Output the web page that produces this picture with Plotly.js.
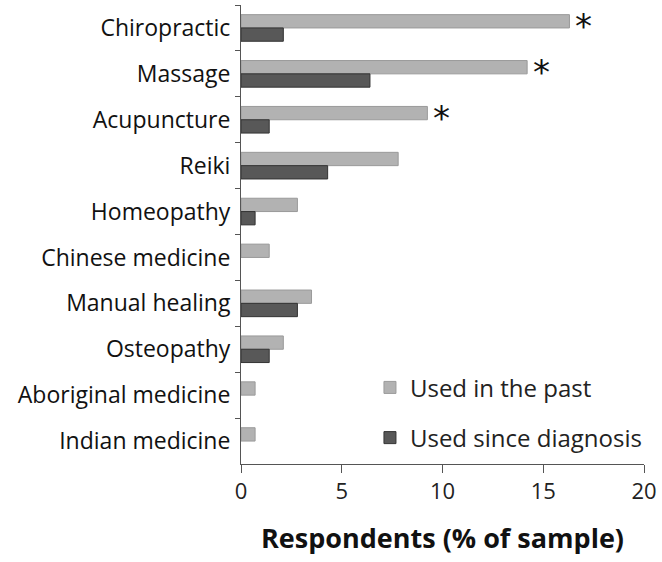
<html lang="en">
  <head>
    <meta charset="UTF-8" />
    <title>CAM use</title>
    <script src="https://cdn.plot.ly/plotly-3.0.1.min.js"></script>
    <style>
      body { margin: 0; background: #fff; }
    </style>
  </head>
  <body>
    <div id="chart" style="width: 662px; height: 562px;"></div>
    <script>
      // therapies, top to bottom
      const therapies = [
        'Chiropractic', 'Massage', 'Acupuncture', 'Reiki', 'Homeopathy',
        'Chinese medicine', 'Manual healing', 'Osteopathy',
        'Aboriginal medicine', 'Indian medicine'
      ];
      // % of sample
      const usedPast = [16.3, 14.2, 9.25, 7.8, 2.8, 1.4, 3.5, 2.1, 0.7, 0.7];
      const usedSince = [2.1, 6.4, 1.4, 4.3, 0.7, 0, 2.8, 1.4, 0, 0];
      // asterisk marks on the "past" bar
      const significant = [true, true, true, false, false, false, false, false, false, false];

      const font = '"Open Sans", Lato, sans-serif';

      // no outline on empty bars
      const edge = vals => vals.map(v => (v > 0 ? 1 : 0));

      const pastTrace = {
        type: 'bar',
        orientation: 'h',
        name: 'Used in the past',
        y: therapies,
        x: usedPast,
        marker: { color: '#b2b2b2', line: { color: '#9a9a9a', width: edge(usedPast) } },
        legendgroup: 'a'
      };

      const sinceTrace = {
        type: 'bar',
        orientation: 'h',
        name: 'Used since diagnosis',
        y: therapies,
        x: usedSince,
        marker: { color: '#585858', line: { color: '#333333', width: edge(usedSince) } },
        legendgroup: 'b'
      };

      const stars = [];
      therapies.forEach((t, i) => {
        if (significant[i]) {
          stars.push({
            x: usedPast[i], y: t, xref: 'x', yref: 'y',
            text: '*', showarrow: false,
            xanchor: 'left', xshift: 4, yshift: 2,
            font: { family: 'DejaVu Sans', size: 34, color: '#111' }
          });
        }
      });

      const layout = {
        width: 662,
        height: 562,
        margin: { l: 241, r: 18, t: 5, b: 98 },
        paper_bgcolor: '#fff',
        plot_bgcolor: '#fff',
        barmode: 'group',
        bargap: 0.42,
        bargroupgap: 0,
        showlegend: true,
        legend: {
          x: 0.32, y: 0.215, xanchor: 'left', yanchor: 'top',
          traceorder: 'grouped',
          tracegroupgap: 16,
          font: { family: font, size: 24, color: '#222' },
          bgcolor: 'rgba(0,0,0,0)'
        },
        xaxis: {
          range: [0, 20],
          dtick: 5,
          showgrid: false,
          zeroline: false,
          showline: true,
          linecolor: '#555',
          linewidth: 1,
          ticks: 'outside',
          ticklen: 8,
          tickcolor: '#555',
          tickfont: { family: font, size: 22, color: '#222' },
          title: {
            text: '<b>Respondents (% of sample)</b>',
            font: { family: font, size: 27, color: '#111' },
            standoff: 24
          }
        },
        yaxis: {
          type: 'category',
          autorange: 'reversed',
          showgrid: false,
          zeroline: false,
          showline: true,
          linecolor: '#555',
          linewidth: 1,
          ticks: 'outside',
          tickson: 'boundaries',
          ticklen: 5,
          tickcolor: '#555',
          ticklabelstandoff: 5,
          tickfont: { family: font, size: 23, color: '#111' }
        },
        annotations: stars
      };

      Plotly.newPlot('chart', [pastTrace, sinceTrace], layout, { displayModeBar: false });
    </script>
  </body>
</html>
